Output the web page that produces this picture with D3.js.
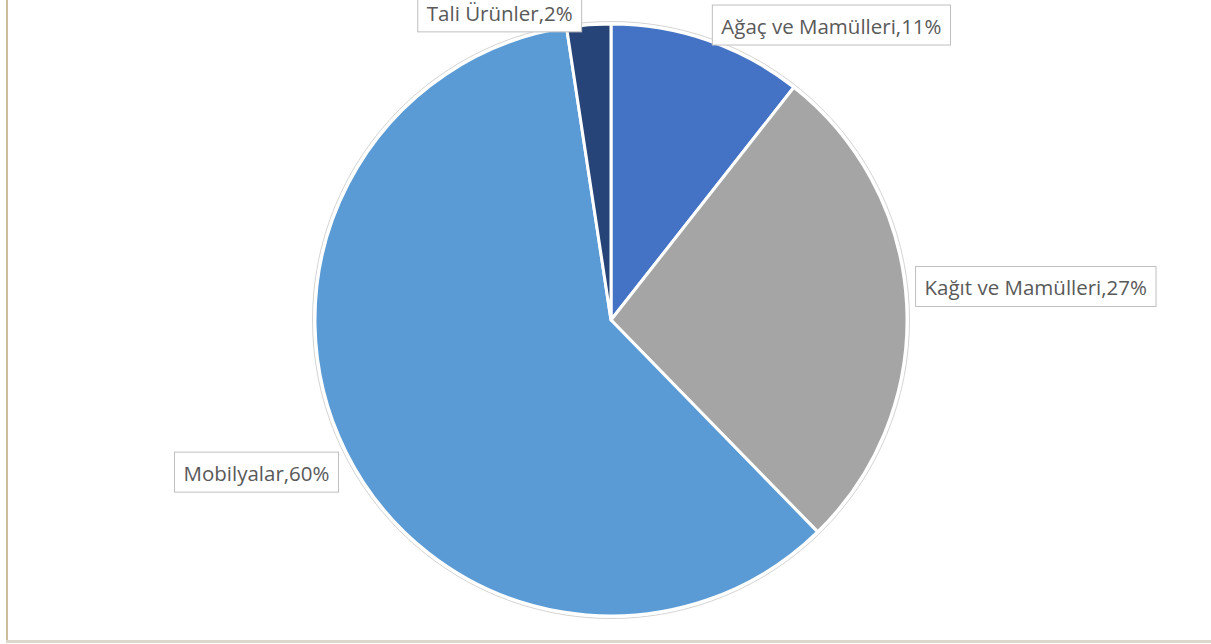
<!DOCTYPE html>
<html>
<head>
<meta charset="utf-8">
<script src="https://cdn.jsdelivr.net/npm/d3@7"></script>
<style>
  body { margin: 0; background: #fff; }
  svg { display: block; }
</style>
</head>
<body>
<svg id="chart" width="1211" height="644"></svg>
<script>
// dilim verileri (saat 12'den saat yönünde)
var categories = ["Ağaç ve Mamülleri", "Kağıt ve Mamülleri", "Mobilyalar", "Tali Ürünler"];
var values = [10.6, 27.1, 59.9, 2.4];
var percentLabels = ["11%", "27%", "60%", "2%"];
var colors = ["#4472C4", "#A5A5A5", "#5B9BD5", "#264478"];

var svg = d3.select("#chart"),
  width = 1211,
  height = 644,
  cx = 611, cy = 320,
  radius = 296;

// kenar çizgileri
svg.append("rect").attr("x", 6).attr("y", 0).attr("width", 2).attr("height", 642).attr("fill", "#cdbd9f");
svg.append("rect").attr("x", 6).attr("y", 640).attr("width", width - 6).attr("height", 3).attr("fill", "#dcd6cb");

var g = svg.append("g").attr("transform", "translate(" + cx + "," + cy + ")");

var data = categories.map(function(c, i) {
  return {name: c, value: values[i], pct: percentLabels[i], color: colors[i]};
});

var pie = d3.pie().sort(null).value(function(d) { return d.value; });
var arc = d3.arc().innerRadius(0).outerRadius(radius);
var arcs = pie(data);

// dış halka
g.append("circle")
  .attr("r", radius + 2.5)
  .attr("fill", "none")
  .attr("stroke", "#d4d4d4")
  .attr("stroke-width", 1);

g.selectAll("path.slice")
  .data(arcs)
  .enter().append("path")
  .attr("class", "slice")
  .attr("d", arc)
  .attr("fill", function(d) { return d.data.color; })
  .attr("stroke", "#fff")
  .attr("stroke-width", 3)
  .attr("stroke-linejoin", "round");

// etiket yerleşimi: dilim ortası açısından, küçük kaydırmalarla
var labelNudge = [[0, -2], [-5, -17], [5, 14], [-6, 1]];

var labels = g.selectAll("g.lbl")
  .data(arcs)
  .enter().append("g")
  .attr("class", "lbl");

labels.each(function(d, i) {
  var grp = d3.select(this);
  var a = (d.startAngle + d.endAngle) / 2;
  var R = radius + 14;
  var px = Math.sin(a) * R + labelNudge[i][0];
  var py = -Math.cos(a) * R + labelNudge[i][1];
  var right = Math.sin(a) >= 0;
  var txt = grp.append("text")
    .attr("font-family", "'Open Sans', sans-serif")
    .attr("font-size", 20.5)
    .attr("fill", "#595959")
    .attr("dominant-baseline", "central")
    .text(d.data.name + "," + d.data.pct);
  var w = txt.node().getComputedTextLength();
  var padX = 9, h = 40;
  var bx = right ? px : px - w - padX * 2;
  var by = py - h / 2;
  grp.insert("rect", "text")
    .attr("x", bx).attr("y", by)
    .attr("width", w + padX * 2).attr("height", h)
    .attr("fill", "#fff")
    .attr("stroke", "#bfbfbf")
    .attr("stroke-width", 1);
  txt.attr("x", bx + padX).attr("y", py + 1);
});
</script>
</body>
</html>
